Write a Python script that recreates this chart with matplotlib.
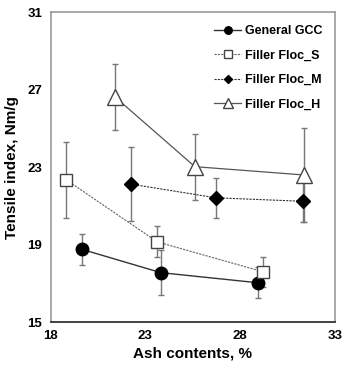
import numpy as np
import matplotlib.pyplot as plt

plt.rcParams['font.family'] = ['Liberation Sans', 'DejaVu Sans']
plt.rcParams['font.weight'] = 'bold'

# data
gcc_x = [19.64, 23.82, 28.92]
gcc_y = [18.76, 17.55, 17.03]
gcc_err = [0.8, 1.17, 0.8]

s_x = [18.84, 23.63, 29.19]
s_y = [22.34, 19.14, 17.6]
s_err = [1.94, 0.8, 0.78]

m_x = [22.22, 26.72, 31.3]
m_y = [22.13, 21.42, 21.24]
m_err = [1.9, 1.03, 1.06]

h_x = [21.39, 25.61, 31.37]
h_y = [26.64, 23.03, 22.6]
h_err = [1.7, 1.7, 2.45]

x_ticks = [18, 23, 28, 33]
y_ticks = [15, 19, 23, 27, 31]

fig = plt.figure(figsize=(3.44, 3.67), dpi=100)
ax = fig.add_axes([0.147, 0.1226, 0.827, 0.8434])

ekw = dict(ecolor='#777777', elinewidth=1.0, capsize=2.5, capthick=1.0)

ax.errorbar(gcc_x, gcc_y, yerr=gcc_err, fmt='-o', color='#333333', lw=1.0,
            mfc='black', mec='black', ms=9, label='General GCC', **ekw)
ax.errorbar(s_x, s_y, yerr=s_err, fmt='s', ls=(0, (2, 1)), color='#666666', lw=0.8,
            mfc='white', mec='#444444', ms=9, label='Filler Floc_S', **ekw)
ax.errorbar(m_x, m_y, yerr=m_err, fmt='D', ls=(0, (2, 1)), color='#333333', lw=0.8,
            mfc='black', mec='black', ms=7, label='Filler Floc_M', **ekw)
ax.errorbar(h_x, h_y, yerr=h_err, fmt='^', ls='-', color='#555555', lw=0.9,
            mfc='white', mec='#444444', ms=11, label='Filler Floc_H', **ekw)

ax.set_xlim(18, 33)
ax.set_ylim(15, 31)
ax.set_xticks(x_ticks)
ax.set_yticks(y_ticks)
ax.tick_params(length=0, labelsize=9.5, pad=6)
for lab in ax.get_xticklabels() + ax.get_yticklabels():
    lab.set_fontweight('bold')

ax.set_xlabel('Ash contents, %', fontsize=11, fontweight='bold', labelpad=3)
ax.set_ylabel('Tensile index, Nm/g', fontsize=11, fontweight='bold', labelpad=6)

for side in ['left', 'top', 'right']:
    ax.spines[side].set_color('#999999')
    ax.spines[side].set_linewidth(1.2)
ax.spines['bottom'].set_color('#222222')
ax.spines['bottom'].set_linewidth(1.2)

handles, labels = ax.get_legend_handles_labels()
handles = [h[0] for h in handles]
leg = ax.legend(handles, labels, loc='upper right', frameon=False, fontsize=9,
                markerscale=0.6, handlelength=2.2, labelspacing=1.0,
                handletextpad=0.3, borderaxespad=0.6)
for t in leg.get_texts():
    t.set_fontweight('bold')

fig.savefig('out.png', dpi=100)
